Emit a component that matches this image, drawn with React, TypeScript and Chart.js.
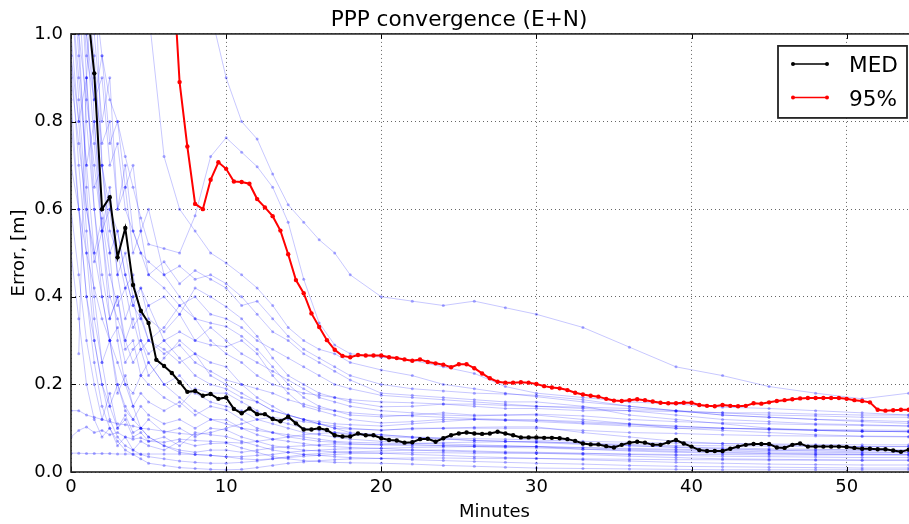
import { useEffect, useRef } from "react";
import { Chart, registerables } from "chart.js";

Chart.register(...registerables);

const FONT = "'DejaVu Sans', 'Liberation Sans', sans-serif";
const TITLE = "PPP convergence (E+N)";
const X_LABEL = "Minutes";
const Y_LABEL = "Error, [m]";
const X_TICKS = [0, 10, 20, 30, 40, 50];
const Y_TICKS = [0, 0.2, 0.4, 0.6, 0.8, 1.0];
const X_MIN = 0;
const X_MAX = 54.6;
const Y_MIN = 0;
const Y_MAX = 1.0;

// individual runs share this time grid (minutes)
const RUN_T = [0, 0.5, 1, 1.5, 2, 2.5, 3, 3.5, 4, 4.5, 5, 6, 7, 8, 9, 10, 11, 12, 13, 14, 15, 16, 17, 18, 20, 22, 24, 26, 28, 30, 33, 36, 39, 42, 45, 48, 51, 54, 56];

const RUN_01 = [null, null, null, null, null, null, null, null, null, null, null, null, null, 1.25, 1.05, 0.9, 0.8, 0.76, 0.68, 0.61, 0.57, 0.53, 0.5, 0.45, 0.40, 0.39, 0.38, 0.39, 0.375, 0.36, 0.33, 0.285, 0.24, 0.22, 0.195, 0.18, 0.167, 0.18, 0.2];
const RUN_02 = [1.8, 1.5, 1.3, 1.1, 0.95, 0.85, 0.8, 0.72, 0.65, 0.58, 0.52, 0.51, 0.5, 0.585, 0.72, 0.763, 0.73, 0.697, 0.65, 0.57, 0.44, 0.34, 0.29, 0.27, 0.262, 0.255, 0.24, 0.225, 0.195, 0.18, 0.17, 0.16, 0.155, 0.148, 0.145, 0.14, 0.135, 0.13, 0.13];
const RUN_03 = [2.0, 1.8, 1.6, 1.5, 1.4, 1.3, 1.25, 1.2, 1.15, 1.1, 1.05, 0.72, 0.6, 0.55, 0.5, 0.477, 0.45, 0.42, 0.38, 0.33, 0.3, 0.28, 0.27, 0.25, 0.233, 0.22, 0.2, 0.19, 0.18, 0.172, 0.16, 0.15, 0.14, 0.13, 0.125, 0.12, 0.115, 0.111, 0.11];
const RUN_04 = [1.5, 1.2, 0.95, 0.85, 0.9, 0.7, 0.75, 0.6, 0.55, 0.5, 0.48, 0.45, 0.47, 0.44, 0.45, 0.43, 0.4, 0.36, 0.32, 0.3, 0.27, 0.25, 0.23, 0.21, 0.18, 0.175, 0.17, 0.165, 0.16, 0.16, 0.15, 0.13, 0.12, 0.11, 0.1, 0.095, 0.093, 0.092, 0.09];
const RUN_05 = [1.2, 1.0, 0.85, 0.7, 0.55, 0.6, 0.45, 0.5, 0.4, 0.42, 0.38, 0.4, 0.36, 0.42, 0.4, 0.377, 0.35, 0.31, 0.26, 0.22, 0.2, 0.18, 0.17, 0.16, 0.149, 0.15, 0.155, 0.15, 0.145, 0.145, 0.14, 0.14, 0.138, 0.135, 0.135, 0.132, 0.13, 0.13, 0.13];
const RUN_06 = [0.9, 0.75, 0.6, 0.48, 0.55, 0.4, 0.35, 0.3, 0.35, 0.28, 0.3, 0.33, 0.38, 0.35, 0.34, 0.332, 0.31, 0.28, 0.24, 0.2, 0.17, 0.15, 0.14, 0.13, 0.126, 0.13, 0.135, 0.13, 0.13, 0.13, 0.12, 0.11, 0.1, 0.095, 0.09, 0.085, 0.082, 0.081, 0.08];
const RUN_07 = [0.7, 0.6, 0.5, 0.42, 0.35, 0.3, 0.33, 0.25, 0.28, 0.3, 0.27, 0.3, 0.32, 0.3, 0.29, 0.286, 0.3, 0.27, 0.22, 0.18, 0.15, 0.14, 0.13, 0.12, 0.112, 0.115, 0.12, 0.12, 0.118, 0.119, 0.115, 0.11, 0.105, 0.1, 0.098, 0.095, 0.093, 0.092, 0.092];
const RUN_08 = [1.4, 1.1, 0.8, 0.6, 0.45, 0.35, 0.4, 0.3, 0.25, 0.28, 0.22, 0.26, 0.3, 0.27, 0.25, 0.24, 0.2, 0.17, 0.15, 0.13, 0.12, 0.11, 0.1, 0.098, 0.096, 0.098, 0.1, 0.102, 0.103, 0.103, 0.09, 0.08, 0.07, 0.065, 0.062, 0.06, 0.058, 0.058, 0.058];
const RUN_09 = [1.1, 0.9, 0.7, 0.5, 0.4, 0.3, 0.25, 0.2, 0.18, 0.22, 0.2, 0.17, 0.15, 0.19, 0.18, 0.18, 0.16, 0.14, 0.12, 0.11, 0.1, 0.095, 0.09, 0.085, 0.081, 0.078, 0.075, 0.072, 0.07, 0.069, 0.065, 0.06, 0.057, 0.055, 0.053, 0.052, 0.05, 0.05, 0.05];
const RUN_10 = [1.0, 0.8, 0.55, 0.35, 0.25, 0.3, 0.18, 0.22, 0.15, 0.18, 0.16, 0.14, 0.16, 0.13, 0.15, 0.142, 0.12, 0.1, 0.09, 0.08, 0.075, 0.07, 0.068, 0.065, 0.062, 0.06, 0.06, 0.06, 0.059, 0.058, 0.052, 0.048, 0.045, 0.043, 0.042, 0.04, 0.04, 0.039, 0.039];
const RUN_11 = [0.8, 0.6, 0.4, 0.3, 0.2, 0.15, 0.2, 0.14, 0.12, 0.15, 0.13, 0.11, 0.12, 0.1, 0.12, 0.119, 0.1, 0.085, 0.075, 0.07, 0.065, 0.06, 0.058, 0.056, 0.054, 0.05, 0.048, 0.046, 0.044, 0.043, 0.04, 0.036, 0.033, 0.03, 0.029, 0.028, 0.027, 0.027, 0.027];
const RUN_12 = [0.6, 0.45, 0.3, 0.2, 0.12, 0.18, 0.1, 0.13, 0.09, 0.1, 0.12, 0.09, 0.1, 0.08, 0.1, 0.096, 0.08, 0.07, 0.06, 0.055, 0.05, 0.048, 0.046, 0.045, 0.043, 0.04, 0.038, 0.035, 0.033, 0.031, 0.028, 0.025, 0.022, 0.02, 0.018, 0.017, 0.016, 0.016, 0.016];
const RUN_13 = [1.3, 1.0, 0.65, 0.4, 0.25, 0.15, 0.1, 0.12, 0.08, 0.09, 0.07, 0.08, 0.06, 0.09, 0.085, 0.081, 0.07, 0.06, 0.05, 0.045, 0.04, 0.038, 0.035, 0.033, 0.031, 0.028, 0.026, 0.024, 0.022, 0.02, 0.018, 0.015, 0.013, 0.012, 0.011, 0.01, 0.009, 0.009, 0.009];
const RUN_14 = [0.5, 0.35, 0.2, 0.12, 0.08, 0.1, 0.06, 0.08, 0.05, 0.07, 0.06, 0.05, 0.07, 0.06, 0.065, 0.066, 0.055, 0.045, 0.035, 0.03, 0.026, 0.024, 0.022, 0.021, 0.02, 0.018, 0.015, 0.013, 0.011, 0.009, 0.008, 0.007, 0.006, 0.005, 0.005, 0.005, 0.005, 0.005, 0.005];
const RUN_15 = [null, 0.27, 0.9, 1.2, 0.7, 0.5, 0.3, 0.2, 0.15, 0.1, 0.08, 0.06, 0.05, 0.045, 0.05, 0.05, 0.045, 0.05, 0.055, 0.058, 0.06, 0.062, 0.064, 0.063, 0.062, 0.065, 0.067, 0.068, 0.069, 0.069, 0.066, 0.063, 0.06, 0.06, 0.059, 0.058, 0.058, 0.058, 0.058];
const RUN_16 = [1.6, 1.2, 0.9, 0.6, 0.4, 0.3, 0.2, 0.15, 0.12, 0.1, 0.08, 0.06, 0.045, 0.04, 0.038, 0.035, 0.035, 0.038, 0.04, 0.045, 0.048, 0.05, 0.052, 0.053, 0.054, 0.056, 0.057, 0.058, 0.058, 0.058, 0.056, 0.054, 0.052, 0.05, 0.05, 0.05, 0.05, 0.05, 0.05];
const RUN_17 = [0.95, 0.7, 0.5, 0.3, 0.2, 0.12, 0.08, 0.06, 0.05, 0.04, 0.035, 0.03, 0.025, 0.022, 0.02, 0.02, 0.022, 0.025, 0.03, 0.033, 0.036, 0.038, 0.04, 0.042, 0.043, 0.044, 0.044, 0.043, 0.043, 0.043, 0.042, 0.041, 0.04, 0.04, 0.039, 0.039, 0.039, 0.039, 0.039];
const RUN_18 = [0.85, 0.6, 0.4, 0.25, 0.15, 0.1, 0.07, 0.05, 0.04, 0.03, 0.02, 0.015, 0.01, 0.008, 0.006, 0.005, 0.006, 0.01, 0.015, 0.02, 0.023, 0.026, 0.028, 0.03, 0.031, 0.032, 0.032, 0.031, 0.031, 0.031, 0.03, 0.029, 0.028, 0.028, 0.027, 0.027, 0.027, 0.027, 0.027];
const RUN_19 = [0.14, 0.14, 0.13, 0.125, 0.12, 0.115, 0.11, 0.108, 0.105, 0.1, 0.098, 0.093, 0.088, 0.085, 0.09, 0.1, 0.11, 0.12, 0.125, 0.12, 0.115, 0.11, 0.105, 0.1, 0.095, 0.1, 0.1, 0.1, 0.1, 0.1, 0.095, 0.09, 0.088, 0.085, 0.083, 0.082, 0.081, 0.08, 0.08];
const RUN_20 = [0.043, 0.043, 0.042, 0.042, 0.042, 0.042, 0.041, 0.041, 0.041, 0.041, 0.041, 0.041, 0.041, 0.04, 0.038, 0.035, 0.03, 0.028, 0.03, 0.035, 0.04, 0.042, 0.045, 0.046, 0.048, 0.05, 0.05, 0.048, 0.046, 0.045, 0.043, 0.04, 0.038, 0.036, 0.035, 0.034, 0.033, 0.033, 0.033];
const RUN_21 = [0.08, 0.095, 0.103, 0.09, 0.095, 0.085, 0.09, 0.08, 0.075, 0.078, 0.07, 0.068, 0.075, 0.072, 0.07, 0.068, 0.066, 0.07, 0.075, 0.08, 0.085, 0.088, 0.09, 0.088, 0.085, 0.08, 0.078, 0.076, 0.075, 0.073, 0.07, 0.068, 0.066, 0.065, 0.064, 0.063, 0.062, 0.062, 0.062];
const RUN_22 = [1.5, 1.3, 1.0, 0.85, 0.95, 0.75, 0.8, 0.65, 0.7, 0.55, 0.6, 0.45, 0.4, 0.35, 0.3, 0.27, 0.25, 0.22, 0.2, 0.19, 0.18, 0.175, 0.17, 0.165, 0.16, 0.158, 0.155, 0.155, 0.152, 0.15, 0.148, 0.145, 0.14, 0.135, 0.13, 0.128, 0.125, 0.125, 0.125];
const RUN_23 = [2.0, 1.6, 1.3, 1.0, 0.8, 0.9, 0.6, 0.7, 0.55, 0.5, 0.45, 0.42, 0.38, 0.4, 0.36, 0.35, 0.33, 0.3, 0.28, 0.26, 0.24, 0.22, 0.2, 0.19, 0.175, 0.17, 0.165, 0.16, 0.155, 0.15, 0.145, 0.14, 0.13, 0.12, 0.115, 0.11, 0.108, 0.105, 0.105];
const RUN_24 = [1.8, 1.5, 1.1, 0.95, 0.7, 0.6, 0.55, 0.45, 0.38, 0.35, 0.3, 0.28, 0.25, 0.27, 0.22, 0.2, 0.18, 0.16, 0.14, 0.13, 0.12, 0.115, 0.11, 0.108, 0.105, 0.11, 0.115, 0.12, 0.118, 0.115, 0.11, 0.105, 0.1, 0.1, 0.098, 0.097, 0.096, 0.095, 0.095];
const RUN_25 = [1.7, 1.4, 1.1, 0.9, 0.75, 0.8, 0.6, 0.65, 0.5, 0.55, 0.45, 0.48, 0.43, 0.46, 0.44, 0.42, 0.38, 0.39, 0.35, 0.31, 0.28, 0.26, 0.24, 0.22, 0.2, 0.19, 0.185, 0.18, 0.178, 0.175, 0.165, 0.15, 0.14, 0.13, 0.125, 0.12, 0.118, 0.115, 0.115];
const RUN_26 = [1.2, 0.95, 0.7, 0.8, 0.6, 0.5, 0.55, 0.45, 0.38, 0.42, 0.35, 0.32, 0.36, 0.3, 0.33, 0.3, 0.27, 0.25, 0.23, 0.21, 0.19, 0.17, 0.16, 0.15, 0.14, 0.135, 0.13, 0.128, 0.13, 0.132, 0.128, 0.12, 0.115, 0.112, 0.11, 0.108, 0.106, 0.105, 0.105];
const RUN_27 = [0.95, 0.8, 0.9, 0.65, 0.7, 0.55, 0.5, 0.42, 0.45, 0.35, 0.38, 0.3, 0.26, 0.22, 0.2, 0.19, 0.17, 0.16, 0.14, 0.13, 0.12, 0.11, 0.1, 0.09, 0.085, 0.08, 0.076, 0.072, 0.07, 0.067, 0.063, 0.06, 0.056, 0.053, 0.05, 0.048, 0.046, 0.045, 0.045];
const RUN_28 = [1.4, 1.2, 1.0, 0.75, 0.55, 0.65, 0.45, 0.35, 0.4, 0.3, 0.25, 0.2, 0.22, 0.18, 0.16, 0.15, 0.14, 0.12, 0.11, 0.1, 0.09, 0.085, 0.08, 0.075, 0.07, 0.066, 0.064, 0.062, 0.06, 0.058, 0.055, 0.052, 0.05, 0.048, 0.046, 0.045, 0.044, 0.044, 0.044];
const RUN_29 = [null, null, 1.2, 0.8, 0.55, 0.35, 0.4, 0.28, 0.3, 0.22, 0.25, 0.2, 0.17, 0.14, 0.12, 0.11, 0.1, 0.095, 0.09, 0.085, 0.08, 0.075, 0.07, 0.068, 0.066, 0.063, 0.06, 0.058, 0.056, 0.055, 0.052, 0.05, 0.047, 0.045, 0.043, 0.042, 0.041, 0.04, 0.04];
const RUN_30 = [1.1, 0.85, 0.6, 0.5, 0.58, 0.45, 0.38, 0.42, 0.33, 0.36, 0.3, 0.27, 0.29, 0.25, 0.23, 0.21, 0.2, 0.19, 0.18, 0.165, 0.155, 0.145, 0.14, 0.135, 0.13, 0.128, 0.125, 0.122, 0.12, 0.118, 0.112, 0.108, 0.104, 0.1, 0.097, 0.095, 0.093, 0.092, 0.092];

const RUNS = [RUN_01, RUN_02, RUN_03, RUN_04, RUN_05, RUN_06, RUN_07, RUN_08, RUN_09, RUN_10, RUN_11, RUN_12, RUN_13, RUN_14, RUN_15, RUN_16, RUN_17, RUN_18, RUN_19, RUN_20, RUN_21, RUN_22, RUN_23, RUN_24, RUN_25, RUN_26, RUN_27, RUN_28, RUN_29, RUN_30];

// statistics, sampled every 0.5 min
const SAMPLE_STEP = 0.5;
const MED_LABEL = "MED";
const MED_START = 1.0;
const MED = [
  1.08, 0.91, 0.60, 0.627, 0.49, 0.557, 0.427, 0.368, 0.34, 0.256,
  0.242, 0.226, 0.205, 0.183, 0.185, 0.174, 0.178, 0.167, 0.17, 0.144,
  0.134, 0.145, 0.132, 0.132, 0.121, 0.116, 0.126, 0.111, 0.097, 0.097,
  0.1, 0.096, 0.084, 0.081, 0.081, 0.088, 0.084, 0.084, 0.077, 0.073,
  0.072, 0.067, 0.068, 0.075, 0.076, 0.069, 0.077, 0.084, 0.088, 0.09,
  0.088, 0.087, 0.088, 0.092, 0.088, 0.084, 0.079, 0.079, 0.079, 0.078,
  0.078, 0.077, 0.075, 0.071, 0.065, 0.063, 0.063, 0.059, 0.056, 0.062,
  0.067, 0.069, 0.067, 0.062, 0.062, 0.068, 0.073, 0.065, 0.058, 0.05,
  0.048, 0.048, 0.048, 0.053, 0.058, 0.062, 0.064, 0.064, 0.064, 0.056,
  0.055, 0.062, 0.065, 0.058, 0.058, 0.058, 0.058, 0.058, 0.057, 0.055,
  0.053, 0.053, 0.052, 0.052, 0.049, 0.046, 0.051, 0.053,
];
const P95_LABEL = "95%";
const P95_START = 6.5;
const P95 = [
  1.19, 0.89, 0.743, 0.612, 0.60, 0.667, 0.707, 0.692, 0.663, 0.662,
  0.658, 0.623, 0.604, 0.584, 0.551, 0.497, 0.438, 0.408, 0.362, 0.331,
  0.301, 0.279, 0.265, 0.262, 0.267, 0.266, 0.266, 0.266, 0.262, 0.26,
  0.257, 0.254, 0.257, 0.251, 0.248, 0.245, 0.239, 0.246, 0.246, 0.237,
  0.225, 0.214, 0.206, 0.204, 0.204, 0.205, 0.204, 0.201, 0.196, 0.193,
  0.191, 0.187, 0.181, 0.177, 0.174, 0.172, 0.167, 0.163, 0.162, 0.164,
  0.166, 0.164, 0.161, 0.158, 0.157, 0.157, 0.158, 0.158, 0.153, 0.151,
  0.15, 0.153, 0.151, 0.15, 0.151, 0.157, 0.156, 0.159, 0.162, 0.164,
  0.166, 0.168, 0.169, 0.169, 0.169, 0.169, 0.169, 0.167, 0.164, 0.162,
  0.159, 0.142, 0.14, 0.141, 0.142, 0.142, 0.142,
];

const MED_COLOR = "#000000";
const P95_COLOR = "#ff0000";
const RUN_COLOR = "rgba(0, 0, 255, 0.22)";
const RUN_POINT = "rgba(0, 0, 255, 0.32)";

const framePlugin = {
  id: "frameAndLegend",
  afterDatasetsDraw(chart: any) {
    const { ctx, chartArea: a, scales } = chart;
    ctx.save();
    // inward ticks
    ctx.strokeStyle = "#000";
    ctx.lineWidth = 1;
    const tl = 5;
    X_TICKS.forEach((v) => {
      const x = Math.round(scales.x.getPixelForValue(v)) + 0.5;
      ctx.beginPath();
      ctx.moveTo(x, a.bottom);
      ctx.lineTo(x, a.bottom - tl);
      ctx.moveTo(x, a.top);
      ctx.lineTo(x, a.top + tl);
      ctx.stroke();
    });
    Y_TICKS.forEach((v) => {
      const y = Math.round(scales.y.getPixelForValue(v)) + 0.5;
      ctx.beginPath();
      ctx.moveTo(a.left, y);
      ctx.lineTo(a.left + tl, y);
      ctx.moveTo(a.right, y);
      ctx.lineTo(a.right - tl, y);
      ctx.stroke();
    });
    // frame
    ctx.strokeStyle = "#222";
    ctx.lineWidth = 1.6;
    ctx.strokeRect(a.left, a.top, a.right - a.left, a.bottom - a.top);

    // legend
    const items = chart.data.datasets.filter((d: any) => d.inLegend);
    const bw = 129;
    const bh = 72;
    const bx = a.right - 11 - bw;
    const by = a.top + 12;
    ctx.fillStyle = "#fff";
    ctx.fillRect(bx, by, bw, bh);
    ctx.strokeStyle = "#222";
    ctx.lineWidth = 1.8;
    ctx.strokeRect(bx, by, bw, bh);
    ctx.font = `21.6px ${FONT}`;
    ctx.textBaseline = "alphabetic";
    ctx.textAlign = "left";
    items.forEach((d: any, i: number) => {
      const cy = by + 18 + i * 33.5;
      ctx.strokeStyle = d.borderColor;
      ctx.lineWidth = 1.5;
      ctx.beginPath();
      ctx.moveTo(bx + 15, cy);
      ctx.lineTo(bx + 49, cy);
      ctx.stroke();
      ctx.fillStyle = d.borderColor;
      [bx + 15, bx + 49].forEach((px) => {
        ctx.beginPath();
        ctx.arc(px, cy, 2, 0, Math.PI * 2);
        ctx.fill();
      });
      ctx.fillStyle = "#000";
      ctx.fillText(d.label, bx + 71, cy + 8.5);
    });
    ctx.restore();
  },
};

function seriesFrom(start: number, values: number[]) {
  return values.map((v, i) => ({ x: start + i * SAMPLE_STEP, y: v }));
}

export default function App() {
  const ref = useRef<HTMLCanvasElement | null>(null);

  useEffect(() => {
    const canvas = ref.current;
    if (!canvas) return;

    const runSets = RUNS.map((vals, k) => ({
      label: `run ${k + 1}`,
      data: vals.map((v, i) => ({ x: RUN_T[i], y: v })),
      borderColor: RUN_COLOR,
      borderWidth: 1,
      pointRadius: 1.5,
      pointBorderWidth: 0,
      pointBackgroundColor: RUN_POINT,
      tension: 0,
      spanGaps: false,
      order: 3,
      inLegend: false,
    }));

    const datasets: any[] = [
      {
        label: MED_LABEL,
        data: seriesFrom(MED_START, MED),
        borderColor: MED_COLOR,
        backgroundColor: MED_COLOR,
        borderWidth: 2,
        pointRadius: 2.2,
        pointBorderWidth: 0,
        pointBackgroundColor: MED_COLOR,
        tension: 0,
        order: 1,
        inLegend: true,
      },
      {
        label: P95_LABEL,
        data: seriesFrom(P95_START, P95),
        borderColor: P95_COLOR,
        backgroundColor: P95_COLOR,
        borderWidth: 2,
        pointRadius: 2.2,
        pointBorderWidth: 0,
        pointBackgroundColor: P95_COLOR,
        tension: 0,
        order: 0,
        inLegend: true,
      },
      ...runSets,
    ];

    const tickFont = { family: FONT, size: 18 };
    const chart = new Chart(canvas, {
      type: "line",
      data: { datasets },
      options: {
        animation: false,
        responsive: false,
        devicePixelRatio: 1,
        events: [],
        layout: { padding: { left: 0, right: 71, top: 0, bottom: 0 } },
        plugins: {
          legend: { display: false },
          tooltip: { enabled: false },
          title: {
            display: true,
            text: TITLE,
            color: "#000",
            font: { family: FONT, size: 21.6, weight: "normal", lineHeight: 1.2 },
            padding: { top: 7, bottom: 1 },
          },
        },
        scales: {
          x: {
            type: "linear",
            min: X_MIN,
            max: X_MAX,
            afterBuildTicks: (s: any) => {
              s.ticks = X_TICKS.map((v) => ({ value: v }));
            },
            afterFit: (s: any) => {
              s.height = 52;
            },
            ticks: {
              color: "#000",
              font: tickFont,
              padding: 5,
              maxRotation: 0,
              autoSkip: false,
              callback: (v: any) => String(v),
            },
            grid: { drawTicks: false, color: "rgba(0,0,0,0.6)", lineWidth: 1 },
            border: { display: false, dash: [1, 3] },
            title: {
              display: true,
              text: X_LABEL,
              color: "#000",
              font: { family: FONT, size: 18, lineHeight: 1.2 },
              padding: { top: 0, bottom: 1 },
            },
          },
          y: {
            type: "linear",
            min: Y_MIN,
            max: Y_MAX,
            afterBuildTicks: (s: any) => {
              s.ticks = Y_TICKS.map((v) => ({ value: v }));
            },
            afterFit: (s: any) => {
              s.width = 71;
            },
            ticks: {
              color: "#000",
              font: tickFont,
              padding: 8,
              autoSkip: false,
              callback: (v: any) => Number(v).toFixed(1),
            },
            grid: { drawTicks: false, color: "rgba(0,0,0,0.6)", lineWidth: 1 },
            border: { display: false, dash: [1, 3] },
            title: {
              display: true,
              text: Y_LABEL,
              color: "#000",
              font: { family: FONT, size: 18, lineHeight: 1.2 },
              padding: { top: 9, bottom: 0 },
            },
          },
        },
      } as any,
      plugins: [framePlugin],
    });
    return () => chart.destroy();
  }, []);

  return (
    <div style={{ position: "absolute", left: 0, top: 0, width: 909, height: 524, overflow: "hidden", background: "#fff" }}>
      <canvas ref={ref} width={989} height={524} style={{ width: 989, height: 524, display: "block" }} />
    </div>
  );
}
